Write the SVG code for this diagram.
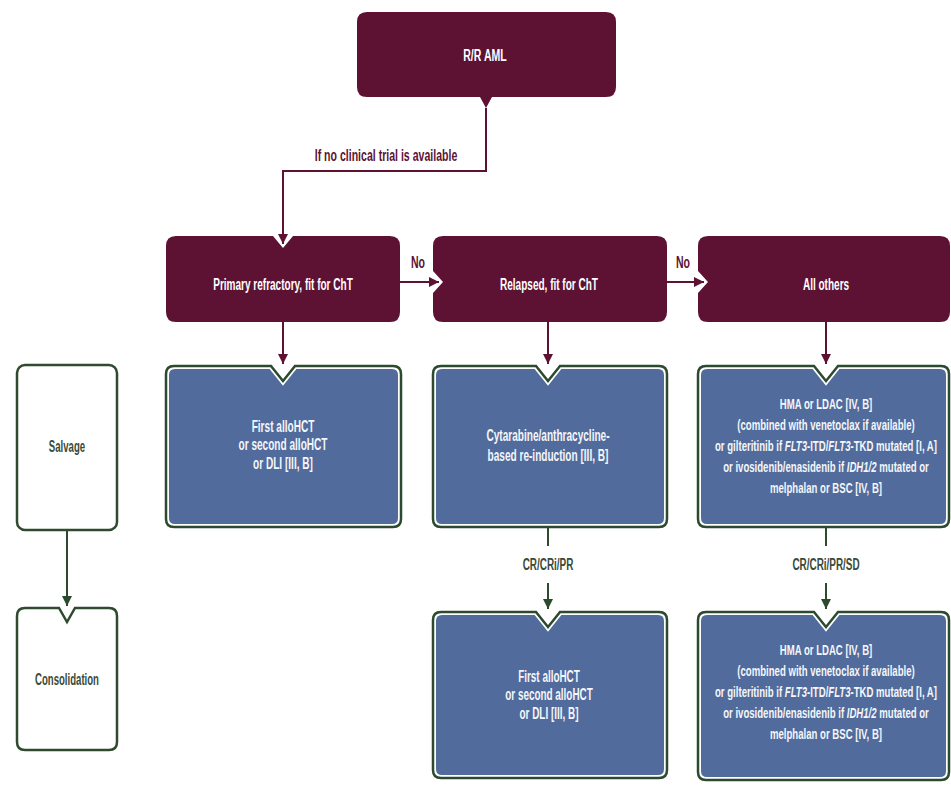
<svg xmlns="http://www.w3.org/2000/svg" width="951" height="785" viewBox="0 0 951 785">
<style>
text{font-family:"Liberation Sans",Arial,sans-serif;text-anchor:middle;font-weight:bold;}
.wt{fill:#ffffff;font-size:17px;}
.bt{fill:#f4f6fa;font-size:16px;}
.ht{fill:#f4f6fa;font-size:15px;}
.mt{fill:#5d1234;font-size:16px;}
.gt{fill:#3a4a38;font-size:16px;}
.maroon{fill:#5d1234;}
.bout{fill:#ffffff;stroke:#2c4a2f;stroke-width:2.5;}
.bin{fill:#506b9c;}
.side{fill:#ffffff;stroke:#2f4a2f;stroke-width:2.5;}
.cm{fill:none;stroke:#5d1234;stroke-width:2;}
.cg{fill:none;stroke:#2e4a2e;stroke-width:2;}
.it{font-style:italic;}
</style>
<defs>
<marker id="am" viewBox="0 0 10 10" refX="10" refY="5" markerWidth="10" markerHeight="12" markerUnits="userSpaceOnUse" orient="auto"><path d="M0,0 L10,5 L0,10 Z" fill="#5d1234"/></marker>
<marker id="ag" viewBox="0 0 10 10" refX="10" refY="5" markerWidth="10" markerHeight="12" markerUnits="userSpaceOnUse" orient="auto"><path d="M0,0 L10,5 L0,10 Z" fill="#2e4a2e"/></marker>
</defs>
<rect x="0" y="0" width="951" height="785" fill="#ffffff"/>

<g id="connectors">
<path class="cm" d="M486,108 V171 H283 V244" marker-end="url(#am)"/>
<path class="cm" d="M400,282 H439" marker-end="url(#am)"/>
<path class="cm" d="M667,282 H704" marker-end="url(#am)"/>
<path class="cm" d="M283,322 V364" marker-end="url(#am)"/>
<path class="cm" d="M548,322 V364" marker-end="url(#am)"/>
<path class="cm" d="M826,322 V364" marker-end="url(#am)"/>
<path class="cg" d="M548,527 V546"/>
<path class="cg" d="M548,583 V609" marker-end="url(#ag)"/>
<path class="cg" d="M826,527 V546"/>
<path class="cg" d="M826,583 V609" marker-end="url(#ag)"/>
<path class="cg" d="M67,530 V606" marker-end="url(#ag)"/>
<g transform="translate(386 0) scale(0.66 1)"><text class="mt" x="0" y="161">If no clinical trial is available</text></g>
<g transform="translate(418 0) scale(0.66 1)"><text class="mt" x="0" y="268">No</text></g>
<g transform="translate(683 0) scale(0.66 1)"><text class="mt" x="0" y="268">No</text></g>
<g transform="translate(548 0) scale(0.62 1)"><text class="gt" x="0" y="570">CR/CRi/PR</text></g>
<g transform="translate(826 0) scale(0.62 1)"><text class="gt" x="0" y="570">CR/CRi/PR/SD</text></g>
</g>

<g id="rr-aml">
<path class="maroon" d="M367,12 H606 Q616,12 616,22 V87 Q616,97 606,97 H492 L486,108 L480,97 H367 Q357,97 357,87 V22 Q357,12 367,12 Z"/>
<g transform="translate(485 0) scale(0.62 1)"><text class="wt" x="0" y="61">R/R AML</text></g>
</g>

<g id="primary-refractory">
<path class="maroon" d="M176,236 H273 L283,248 L293,236 H390 Q400,236 400,246 V312 Q400,322 390,322 H176 Q166,322 166,312 V246 Q166,236 176,236 Z"/>
<g transform="translate(283 0) scale(0.59 1)"><text class="wt" x="0" y="290">Primary refractory, fit for ChT</text></g>
</g>

<g id="relapsed">
<path class="maroon" d="M443,236 H657 Q667,236 667,246 V312 Q667,322 657,322 H443 Q433,322 433,312 V293 L443,282 L433,271 V246 Q433,236 443,236 Z"/>
<g transform="translate(549 0) scale(0.59 1)"><text class="wt" x="0" y="290">Relapsed, fit for ChT</text></g>
</g>

<g id="all-others">
<path class="maroon" d="M708,236 H940 Q950,236 950,246 V312 Q950,322 940,322 H708 Q698,322 698,312 V293 L708,282 L698,271 V246 Q698,236 708,236 Z"/>
<g transform="translate(826 0) scale(0.59 1)"><text class="wt" x="0" y="290">All others</text></g>
</g>

<g id="salvage">
<rect class="side" x="17" y="365" width="100" height="165" rx="8"/>
<g transform="translate(67 0) scale(0.6 1)"><text class="gt" x="0" y="452">Salvage</text></g>
</g>

<g id="consolidation">
<path class="side" d="M25,608 H59 L67,622 L75,608 H109 Q117,608 117,616 V742 Q117,750 109,750 H25 Q17,750 17,742 V616 Q17,608 25,608 Z"/>
<g transform="translate(67 0) scale(0.6 1)"><text class="gt" x="0" y="685">Consolidation</text></g>
</g>

<g id="salvage-primary">
<path class="bout" d="M174,366 H271 L283,381 L295,366 H393 Q401,366 401,374 V519 Q401,527 393,527 H174 Q166,527 166,519 V374 Q166,366 174,366 Z"/>
<path class="bin" d="M175,369 H269.6 L283,385.8 L296.4,369 H392 Q398,369 398,375 V518 Q398,524 392,524 H175 Q169,524 169,518 V375 Q169,369 175,369 Z"/>
<g transform="translate(283 0) scale(0.63 1)">
<text class="bt" x="0" y="432">First alloHCT</text>
<text class="bt" x="0" y="450.5">or second alloHCT</text>
<text class="bt" x="0" y="469">or DLI [III, B]</text>
</g>
</g>

<g id="salvage-relapsed">
<path class="bout" d="M441,366 H536 L548,381 L560,366 H659 Q667,366 667,374 V519 Q667,527 659,527 H441 Q433,527 433,519 V374 Q433,366 441,366 Z"/>
<path class="bin" d="M442,369 H534.6 L548,385.8 L561.4,369 H658 Q664,369 664,375 V518 Q664,524 658,524 H442 Q436,524 436,518 V375 Q436,369 442,369 Z"/>
<g transform="translate(548 0) scale(0.63 1)">
<text class="bt" x="0" y="441">Cytarabine/anthracycline-</text>
<text class="bt" x="0" y="461">based re-induction [III, B]</text>
</g>
</g>

<g id="salvage-others">
<path class="bout" d="M706,366 H814 L826,381 L838,366 H941 Q949,366 949,374 V519 Q949,527 941,527 H706 Q698,527 698,519 V374 Q698,366 706,366 Z"/>
<path class="bin" d="M707,369 H812.6 L826,385.8 L839.4,369 H940 Q946,369 946,375 V518 Q946,524 940,524 H707 Q701,524 701,518 V375 Q701,369 707,369 Z"/>
<g transform="translate(826 0) scale(0.64 1)">
<text class="ht" x="0" y="409">HMA or LDAC [IV, B]</text>
<text class="ht" x="0" y="430">(combined with venetoclax if available)</text>
<text class="ht" x="0" y="451">or gilteritinib if <tspan class="it">FLT3</tspan>-ITD/<tspan class="it">FLT3</tspan>-TKD mutated [I, A]</text>
<text class="ht" x="0" y="472">or ivosidenib/enasidenib if <tspan class="it">IDH1/2</tspan> mutated or</text>
<text class="ht" x="0" y="493">melphalan or BSC [IV, B]</text>
</g>
</g>

<g id="consolidation-relapsed">
<path class="bout" d="M441,612 H536 L548,627 L560,612 H659 Q667,612 667,620 V770 Q667,778 659,778 H441 Q433,778 433,770 V620 Q433,612 441,612 Z"/>
<path class="bin" d="M442,615 H534.6 L548,631.8 L561.4,615 H658 Q664,615 664,621 V769 Q664,775 658,775 H442 Q436,775 436,769 V621 Q436,615 442,615 Z"/>
<g transform="translate(549 0) scale(0.62 1)">
<text class="bt" x="0" y="682">First alloHCT</text>
<text class="bt" x="0" y="700.5">or second alloHCT</text>
<text class="bt" x="0" y="719">or DLI [III, B]</text>
</g>
</g>

<g id="consolidation-others">
<path class="bout" d="M706,612 H814 L826,627 L838,612 H941 Q949,612 949,620 V772 Q949,780 941,780 H706 Q698,780 698,772 V620 Q698,612 706,612 Z"/>
<path class="bin" d="M707,615 H812.6 L826,631.8 L839.4,615 H940 Q946,615 946,621 V771 Q946,777 940,777 H707 Q701,777 701,771 V621 Q701,615 707,615 Z"/>
<g transform="translate(826 0) scale(0.64 1)">
<text class="ht" x="0" y="655">HMA or LDAC [IV, B]</text>
<text class="ht" x="0" y="676">(combined with venetoclax if available)</text>
<text class="ht" x="0" y="697">or gilteritinib if <tspan class="it">FLT3</tspan>-ITD/<tspan class="it">FLT3</tspan>-TKD mutated [I, A]</text>
<text class="ht" x="0" y="718">or ivosidenib/enasidenib if <tspan class="it">IDH1/2</tspan> mutated or</text>
<text class="ht" x="0" y="739">melphalan or BSC [IV, B]</text>
</g>
</g>
</svg>
